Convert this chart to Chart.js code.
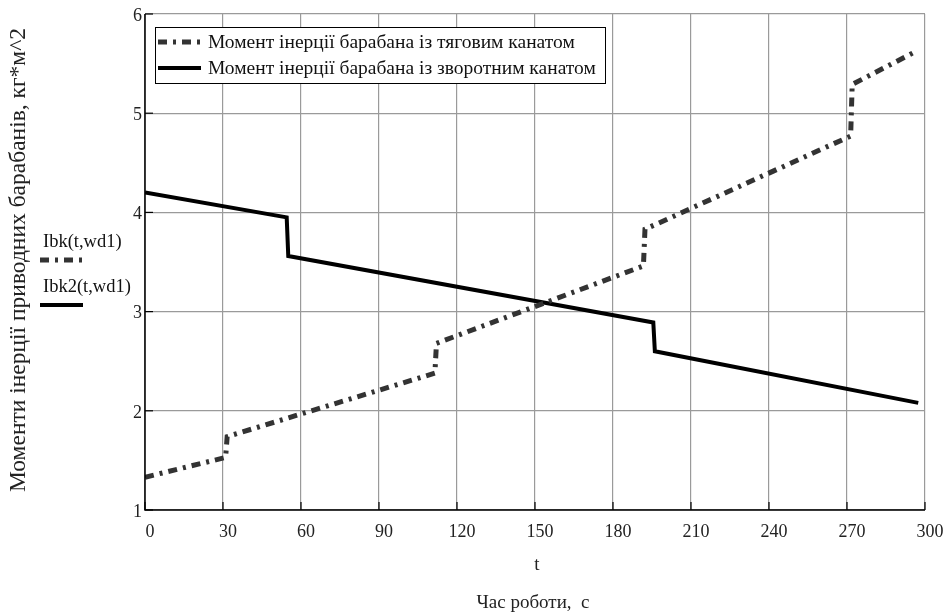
<!DOCTYPE html>
<html>
<head>
<meta charset="utf-8">
<script src="https://cdn.jsdelivr.net/npm/chart.js@4"></script>
<style>
  html, body { margin: 0; padding: 0; background: #fff; }
  #wrap { width: 946px; height: 615px; position: relative; }
</style>
</head>
<body>
<div id="wrap"><canvas id="c" width="946" height="615"></canvas></div>
<script>
/* Моменти інерції барабанів у часі */
const tPull = [0, 31, 31.6, 111.5, 112.1, 191.7, 192.3, 271.4, 272, 297];
const iPull = [1.33, 1.53, 1.74, 2.38, 2.68, 3.46, 3.83, 4.77, 5.29, 5.63];
const tBack = [0, 54.5, 55.1, 195.5, 196.1, 297.4];
const iBack = [4.20, 3.95, 3.56, 2.89, 2.60, 2.08];
const xTicks = [0, 30, 60, 90, 120, 150, 180, 210, 240, 270, 300];
const yTicks = [1, 2, 3, 4, 5, 6];
const names = ['Момент інерції барабана із тяговим канатом', 'Момент інерції барабана із зворотним канатом'];
const fnNames = ['Ibk(t,wd1)', 'Ibk2(t,wd1)'];

const FONT = '"Liberation Serif", "DejaVu Serif", serif';
const DASH = [9, 6, 3, 6];
const pts = (xs, ys) => xs.map((x, i) => ({ x, y: ys[i] }));

/* підписи, легенда, внутрішні риски */
const decor = {
  id: 'decor',
  afterDraw(chart) {
    const ctx = chart.ctx, a = chart.chartArea;
    const xs = chart.scales.x, ys = chart.scales.y;
    ctx.save();
    // осі
    ctx.strokeStyle = '#000'; ctx.lineWidth = 1.5;
    ctx.beginPath();
    ctx.moveTo(a.left, a.top); ctx.lineTo(a.left, a.bottom); ctx.lineTo(a.right, a.bottom);
    ctx.stroke();
    ctx.lineWidth = 1.2;
    xTicks.forEach(v => { const px = xs.getPixelForValue(v); ctx.beginPath(); ctx.moveTo(px, a.bottom); ctx.lineTo(px, a.bottom - 8); ctx.stroke(); });
    yTicks.forEach(v => { const py = ys.getPixelForValue(v); ctx.beginPath(); ctx.moveTo(a.left, py); ctx.lineTo(a.left + 8, py); ctx.stroke(); });

    // легенда в рамці
    const lx = 155, ly = 27, lw = 450, lh = 56;
    ctx.fillStyle = '#fff'; ctx.fillRect(lx, ly, lw, lh);
    ctx.strokeStyle = '#000'; ctx.lineWidth = 1; ctx.strokeRect(lx + 0.5, ly + 0.5, lw, lh);
    ctx.font = '19.5px ' + FONT; ctx.fillStyle = '#111'; ctx.textBaseline = 'middle'; ctx.textAlign = 'left';
    chart.data.datasets.forEach((ds, i) => {
      const y = ly + 15 + i * 26;
      ctx.strokeStyle = ds.borderColor; ctx.lineWidth = ds.borderWidth;
      ctx.setLineDash(ds.borderDash || []);
      ctx.beginPath(); ctx.moveTo(lx + 3, y); ctx.lineTo(lx + 46, y); ctx.stroke();
      ctx.setLineDash([]);
      ctx.fillText(names[i], lx + 53, y + 1);
    });

    // позначення функцій зліва
    chart.data.datasets.forEach((ds, i) => {
      const y = 242 + i * 45;
      ctx.fillStyle = '#111'; ctx.font = '18.5px ' + FONT; ctx.textAlign = 'left';
      ctx.fillText(fnNames[i], 43, y);
      ctx.strokeStyle = ds.borderColor; ctx.lineWidth = ds.borderWidth;
      ctx.setLineDash(ds.borderDash || []);
      ctx.beginPath(); ctx.moveTo(40, y + 18); ctx.lineTo(83, y + 18); ctx.stroke();
      ctx.setLineDash([]);
    });

    // підписи осей
    ctx.fillStyle = '#222'; ctx.textAlign = 'center';
    ctx.font = '19px ' + FONT;
    ctx.fillText('t', 537, 565);
    ctx.fillText('Час роботи,  с', 533, 603);
    ctx.translate(19, 260); ctx.rotate(-Math.PI / 2);
    ctx.font = '23.5px ' + FONT;
    ctx.fillText('Моменти інерції приводних барабанів, кг*м^2', 0, 0);
    ctx.restore();
  }
};

new Chart(document.getElementById('c'), {
  type: 'line',
  data: {
    datasets: [
      { label: names[0], data: pts(tPull, iPull), borderColor: '#333', borderWidth: 5, borderDash: DASH, pointRadius: 0, tension: 0 },
      { label: names[1], data: pts(tBack, iBack), borderColor: '#000', borderWidth: 4, pointRadius: 0, tension: 0 },
    ]
  },
  options: {
    responsive: false,
    animation: false,
    layout: { padding: { top: 14, right: 21, left: 0, bottom: 0 } },
    plugins: { legend: { display: false }, tooltip: { enabled: false } },
    scales: {
      x: {
        type: 'linear', min: 0, max: 300,
        afterBuildTicks: s => { s.ticks = xTicks.map(v => ({ value: v })); },
        afterFit: s => { s.height = 105; s.paddingLeft = 0; s.paddingRight = 0; },
        grid: { color: '#9a9a9a', lineWidth: 1.2, drawTicks: false },
        border: { display: false },
        ticks: { color: '#222', font: { family: FONT, size: 18 }, padding: 11, labelOffset: 5, maxRotation: 0 }
      },
      y: {
        min: 1, max: 6,
        afterBuildTicks: s => { s.ticks = yTicks.map(v => ({ value: v })); },
        afterFit: s => { s.width = 145; },
        grid: { color: '#9a9a9a', lineWidth: 1.2, drawTicks: false },
        border: { display: false },
        ticks: { color: '#222', font: { family: FONT, size: 18 }, padding: 3, labelOffset: 2 }
      }
    }
  },
  plugins: [decor]
});
</script>
</body>
</html>
